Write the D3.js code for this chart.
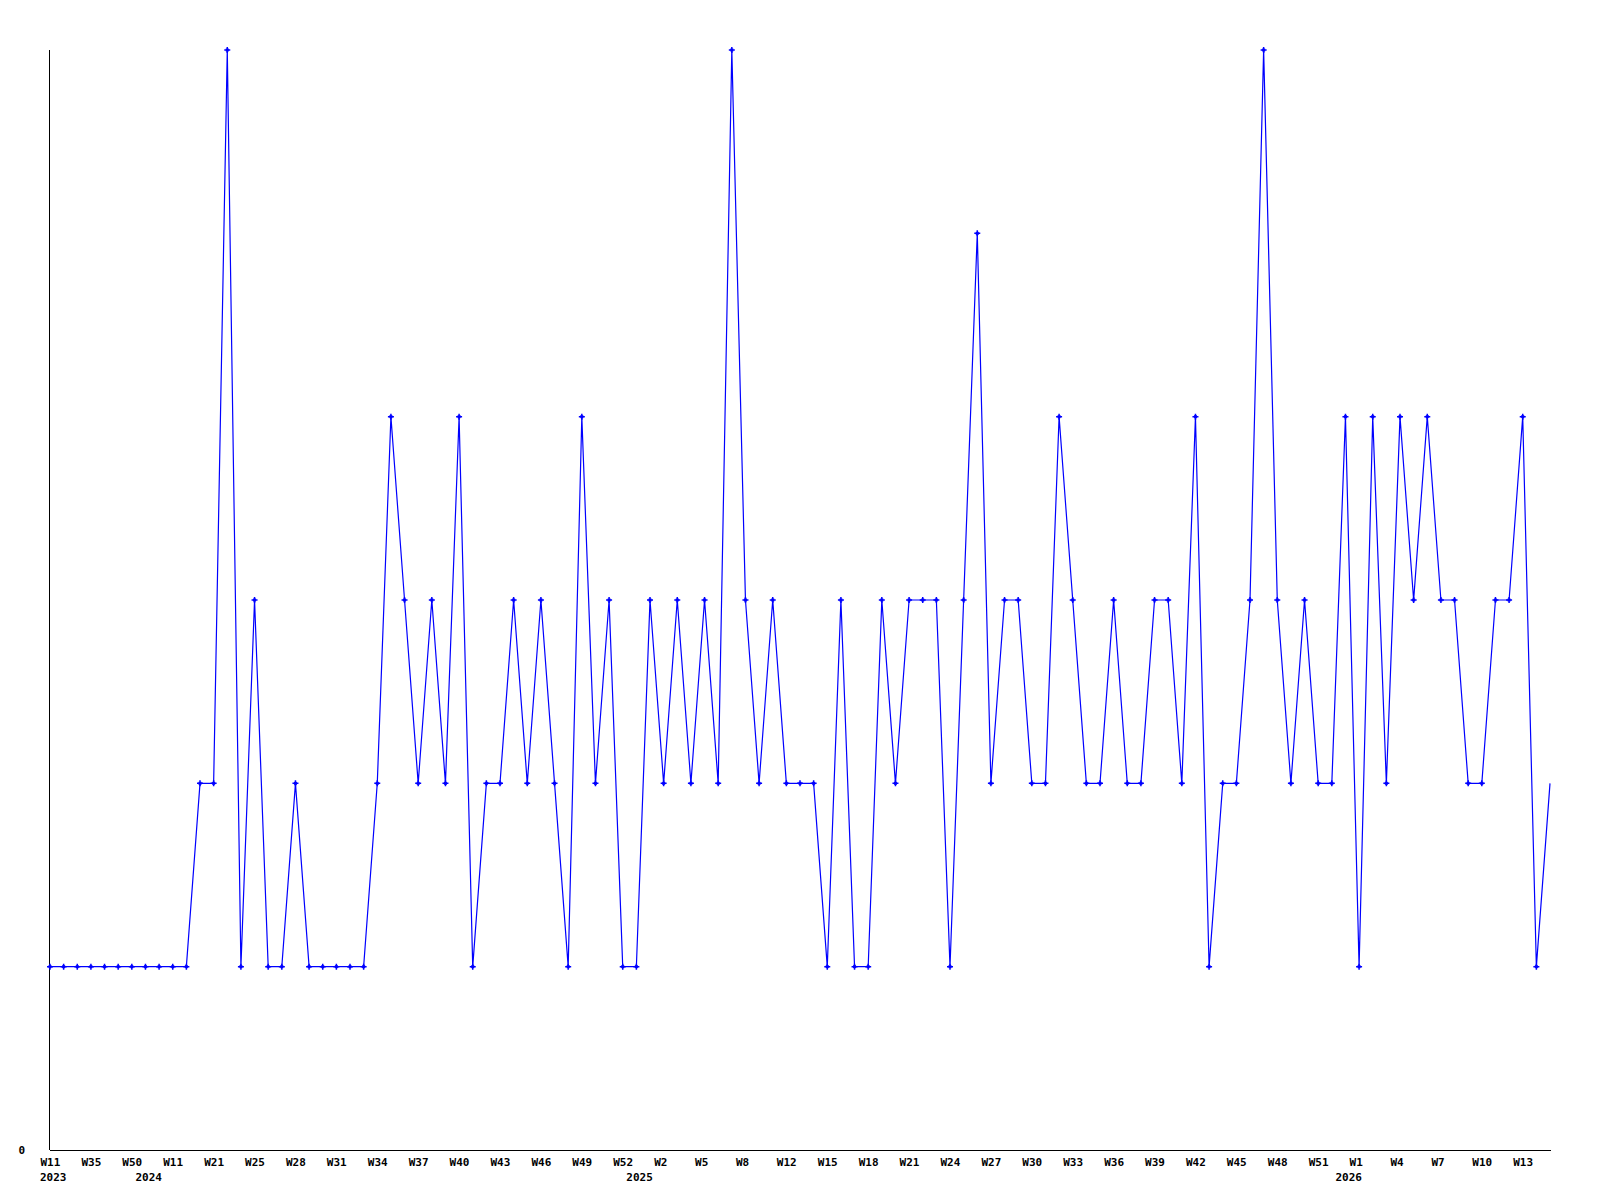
<!DOCTYPE html>
<meta charset="utf-8">
<html>
<head>
<style>
  body { margin: 0; background: #fff; }
  text { font-family: "DejaVu Sans Mono", monospace; font-weight: bold; font-size: 11px; }
</style>
</head>
<body>
<script src="https://d3js.org/d3.v7.min.js"></script>
<div id="chart"></div>
<script>

// one value per weekly entry (111 entries)
var values = [1,1,1,1,1,1,1,1,1,1, 1,2,2,6,1,3,1,1,2,1,
              1,1,1,1,2,4,3,2,3,2, 4,1,2,2,3,2,3,2,1,4,
              2,3,1,1,3,2,3,2,3,2, 6,3,2,3,2,2,2,1,3,1,
              1,3,2,3,3,3,1,3,5,2, 3,3,2,2,4,3,2,2,3,2,
              2,3,3,2,4,1,2,2,3,6, 3,2,3,2,2,4,1,4,2,4,
              3,4,3,3,2,2,3,3,4,1, 2];

// week labels, one every 3rd entry
var weekLabels = ["W11","W35","W50","W11","W21","W25","W28","W31","W34","W37",
                  "W40","W43","W46","W49","W52","W2","W5","W8","W12","W15",
                  "W18","W21","W24","W27","W30","W33","W36","W39","W42","W45",
                  "W48","W51","W1","W4","W7","W10","W13"];
var weekStep = 3;

// year labels and the entry where each year starts
var yearLabels = ["2023","2024","2025","2026"];
var yearStart = [0, 7, 43, 95];

var yTicks = [0];

var width = 1600, height = 1200;
var margin = {top: 50, right: 50, bottom: 50, left: 50};

var svg = d3.select("#chart")
  .append("svg")
    .attr("width", width)
    .attr("height", height);

var x = d3.scaleLinear()
  .domain([0, values.length - 1])
  .range([margin.left, width - margin.right]);

var y = d3.scaleLinear()
  .domain([0, d3.max(values)])
  .range([height - margin.bottom, margin.top]);

// bottom axis
var xAxis = svg.append("g")
  .attr("transform", "translate(0," + y(0) + ")")
  .call(d3.axisBottom(x)
    .tickValues(weekLabels.map(function(d, i) { return i * weekStep; }))
    .tickFormat(function(d, i) { return weekLabels[i]; })
    .tickSize(0)
    .tickSizeOuter(0)
    .tickPadding(0));
xAxis.select(".domain")
  .attr("d", "M" + x.range()[0] + ",0.5H" + (x.range()[1] + 1))
  .attr("stroke", "#000")
  .attr("shape-rendering", "crispEdges");
xAxis.selectAll("text")
  .attr("font-family", null).attr("font-size", null)
  .attr("fill", "#000")
  .attr("dy", null)
  .attr("y", 16)
  .attr("x", -10)
  .style("text-anchor", "start");

// year labels under the week labels
svg.append("g")
  .selectAll("text")
  .data(yearLabels)
  .enter().append("text")
    .attr("x", function(d, i) { return x(yearStart[i]) - 10; })
    .attr("y", y(0) + 31)
    .attr("fill", "#000")
    .text(function(d) { return d; });

// left axis
var yAxis = svg.append("g")
  .attr("transform", "translate(" + x(0) + ",0)")
  .call(d3.axisLeft(y).tickValues(yTicks).tickFormat(d3.format("d"))
    .tickSize(0).tickSizeOuter(0).tickPadding(25));
yAxis.select(".domain")
  .attr("d", "M-0.5," + y.range()[1] + "V" + y.range()[0])
  .attr("stroke", "#000")
  .attr("shape-rendering", "crispEdges");
yAxis.selectAll("text")
  .attr("font-family", null).attr("font-size", null)
  .attr("fill", "#000")
  .attr("dy", "0.35em");

// the line
var line = d3.line()
  .x(function(d, i) { return x(i); })
  .y(function(d) { return y(d); });

svg.append("path")
  .datum(values)
  .attr("fill", "none")
  .attr("stroke", "#0000ff")
  .attr("stroke-width", 1.2)
  .attr("d", line);

// small cross markers (last entry sits on the edge and has none)
var marks = svg.append("g")
  .selectAll("g")
  .data(values.slice(0, -1))
  .enter().append("g")
    .attr("transform", function(d, i) { return "translate(" + x(i) + "," + y(d) + ")"; });
marks.append("path")
  .attr("d", "M-3,0H3M0,-3V3")
  .attr("stroke", "#0000ff")
  .attr("stroke-width", 1.5);
marks.append("rect")
  .attr("x", -1.5).attr("y", -1.5)
  .attr("width", 3).attr("height", 3)
  .attr("fill", "#0000ff");

</script>
</body>
</html>
